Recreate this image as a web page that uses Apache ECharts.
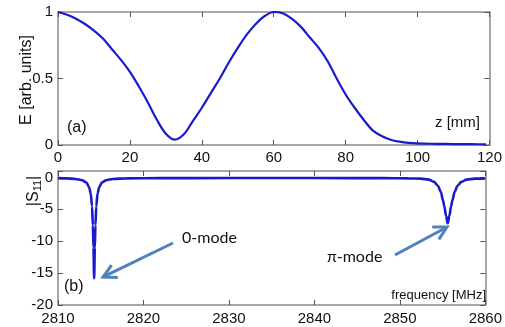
<!DOCTYPE html>
<html><head><meta charset="utf-8">
<script src="https://cdn.jsdelivr.net/npm/echarts@6/dist/echarts.min.js"></script>
<style>html,body{margin:0;padding:0;background:#fff}#c{width:505px;height:327px}</style>
</head><body><div id="c"></div>
<script>
// Panel (a): field profile
var zVals = [0, 2.5, 5, 7.5, 10, 12.5, 15, 17.5, 20, 22.5, 25, 27.5, 30, 32.5, 35, 37.5, 40, 42.5, 45, 47.5, 50, 52.5, 55, 57.5, 60, 62.5, 65, 67.5, 70, 72.5, 75, 77.5, 80, 82.5, 85, 87.5, 90, 92.5, 95, 97.5, 100, 105, 110, 115, 119];
var eVals = [1.0, 0.98, 0.95, 0.91, 0.86, 0.8, 0.72, 0.64, 0.55, 0.44, 0.32, 0.19, 0.085, 0.04, 0.08, 0.18, 0.28, 0.39, 0.5, 0.62, 0.73, 0.83, 0.91, 0.97, 1.0, 0.99, 0.95, 0.89, 0.81, 0.73, 0.63, 0.5, 0.38, 0.28, 0.19, 0.11, 0.068, 0.04, 0.025, 0.016, 0.012, 0.009, 0.007, 0.006, 0.005];
// Panel (b): |S11| spectrum
var fVals = [2810, 2811, 2812.03, 2812.83, 2813.33, 2813.63, 2813.83, 2813.98, 2814.08, 2814.15, 2814.23, 2814.31, 2814.38, 2814.48, 2814.63, 2814.83, 2815.13, 2815.63, 2816.43, 2818, 2822, 2830, 2840, 2848, 2851, 2852.4, 2853.4, 2854.0, 2854.45, 2854.8, 2855.05, 2855.2, 2855.4, 2855.6, 2855.8, 2856.0, 2856.15, 2856.4, 2856.75, 2857.2, 2857.8, 2858.8, 2860];
var sVals = [-0.12, -0.15, -0.25, -0.45, -0.8, -1.5, -2.5, -4.5, -7.5, -11, -15.8, -11, -7.5, -4.5, -2.5, -1.5, -0.8, -0.45, -0.25, -0.15, -0.12, -0.1, -0.1, -0.12, -0.15, -0.2, -0.35, -0.7, -1.3, -2.3, -3.6, -4.5, -6.0, -7.2, -6.0, -4.5, -3.6, -2.3, -1.3, -0.7, -0.35, -0.2, -0.15];
var xTicksA = {min: 0, max: 120, interval: 20};
var yTicksA = {min: 0, max: 1, interval: 0.5};
var xTicksB = {min: 2810, max: 2860, interval: 10};
var yTicksB = {min: -20, max: 1, interval: 5};

var chart = echarts.init(document.getElementById('c'), null, {renderer: 'canvas'});
var FONT = 'Liberation Sans, Arial, sans-serif';
var frame = '#8a8a8a';
function lbl(margin, fmt) {
  return {color: '#111', fontSize: 15, fontFamily: FONT, margin: margin, formatter: fmt};
}
function axBase(extra) {
  var o = {
    axisLine: {show: true, onZero: false, lineStyle: {color: frame, width: 1.5}},
    axisTick: {show: true, inside: true, length: 5, lineStyle: {color: '#555', width: 1}},
    splitLine: {show: false},
    axisLabel: lbl(5)
  };
  for (var k in extra) o[k] = extra[k];
  return o;
}
function mirror(extra) {
  var o = axBase(extra);
  o.axisLabel = {show: false};
  return o;
}
var plain = function (v) { return String(v); };
var pairsA = zVals.map(function (z, i) { return [z, eVals[i]]; });
var pairsB = fVals.map(function (f, i) { return [f, sVals[i]]; });
var blue = '#1a1acc';

var option = {
  animation: false,
  backgroundColor: '#fff',
  grid: [
    {left: 58, right: 15, top: 12, height: 133, show: false},
    {left: 58, right: 15, top: 171, height: 134, show: false}
  ],
  xAxis: [
    axBase({type: 'value', gridIndex: 0, min: xTicksA.min, max: xTicksA.max, interval: xTicksA.interval, position: 'bottom', axisLabel: lbl(5, plain)}),
    mirror({type: 'value', gridIndex: 0, min: xTicksA.min, max: xTicksA.max, interval: xTicksA.interval, position: 'top'}),
    axBase({type: 'value', gridIndex: 1, min: xTicksB.min, max: xTicksB.max, interval: xTicksB.interval, position: 'bottom', axisLabel: lbl(6, plain)}),
    mirror({type: 'value', gridIndex: 1, min: xTicksB.min, max: xTicksB.max, interval: xTicksB.interval, position: 'top'})
  ],
  yAxis: [
    axBase({type: 'value', gridIndex: 0, min: yTicksA.min, max: yTicksA.max, interval: yTicksA.interval, position: 'left', axisLabel: lbl(5, plain)}),
    mirror({type: 'value', gridIndex: 0, min: yTicksA.min, max: yTicksA.max, interval: yTicksA.interval, position: 'right'}),
    axBase({type: 'value', gridIndex: 1, min: yTicksB.min, max: yTicksB.max, interval: yTicksB.interval, position: 'left',
      axisLabel: lbl(5, function (v) { return (v % 5 === 0) ? String(v) : ''; })}),
    mirror({type: 'value', gridIndex: 1, min: yTicksB.min, max: yTicksB.max, interval: yTicksB.interval, position: 'right'})
  ],
  series: [
    {type: 'line', xAxisIndex: 0, yAxisIndex: 0, data: pairsA, smooth: 0.35, showSymbol: false,
      lineStyle: {color: blue, width: 2.2}},
    {type: 'line', xAxisIndex: 2, yAxisIndex: 2, data: pairsB, smooth: 0.3, smoothMonotone: 'x', showSymbol: false,
      lineStyle: {color: blue, width: 2.6}}
  ]
};
chart.setOption(option);

// annotations
var g = [];
var arrowColor = '#4f81bd';
function arrow(x1, y1, x2, y2) {
  var dx = x2 - x1, dy = y2 - y1, L = Math.sqrt(dx * dx + dy * dy);
  var ux = dx / L, uy = dy / L, px = -uy, py = ux;
  var hl = 13, hw = 7;
  var bx = x2 - ux * hl, by = y2 - uy * hl;
  g.push({type: 'line', shape: {x1: x1, y1: y1, x2: x2 - ux * 2, y2: y2 - uy * 2}, style: {stroke: arrowColor, lineWidth: 3}, z: 100});
  g.push({type: 'polyline', shape: {points: [[bx + px * hw, by + py * hw], [x2, y2], [bx - px * hw, by - py * hw]]},
    style: {stroke: arrowColor, lineWidth: 3, fill: null, lineJoin: 'miter'}, z: 100});
}
arrow(173, 243, 103, 277);
arrow(395, 255, 447, 227);
function txt(t, x, y, size, align, rot, font) {
  return {type: 'text', x: x, y: y, rotation: rot || 0, z: 101,
    style: {text: t, fill: '#111', font: size + 'px ' + (font || FONT), align: align || 'left', verticalAlign: 'middle'}};
}
g.push(txt('0-mode', 182, 238, 16, 'left', 0, 'Lato, sans-serif'));
g.push(txt('\u03c0-mode', 327, 257, 16, 'left', 0, 'Lato, sans-serif'));
g.push(txt('(a)', 67, 128, 16, 'left'));
g.push(txt('(b)', 64, 287, 16, 'left'));
g.push(txt('z [mm]', 480, 123, 15, 'right'));
g.push(txt('frequency [MHz]', 486, 295, 13, 'right'));
g.push(txt('E [arb. units]', 27, 80, 16, 'center', Math.PI / 2));
g.push({type: 'text', x: 34, y: 191, rotation: Math.PI / 2, z: 101,
  style: {text: '{b||S}{sub|11}{b||}', fill: '#111', fontSize: 16, fontFamily: FONT, align: 'center', verticalAlign: 'middle',
    rich: {b: {fontSize: 16, fontFamily: FONT, fill: '#111'}, sub: {fontSize: 11, fontFamily: FONT, fill: '#111', padding: [8, 0, 0, 0]}}}});
chart.setOption({graphic: g});
</script></body></html>
